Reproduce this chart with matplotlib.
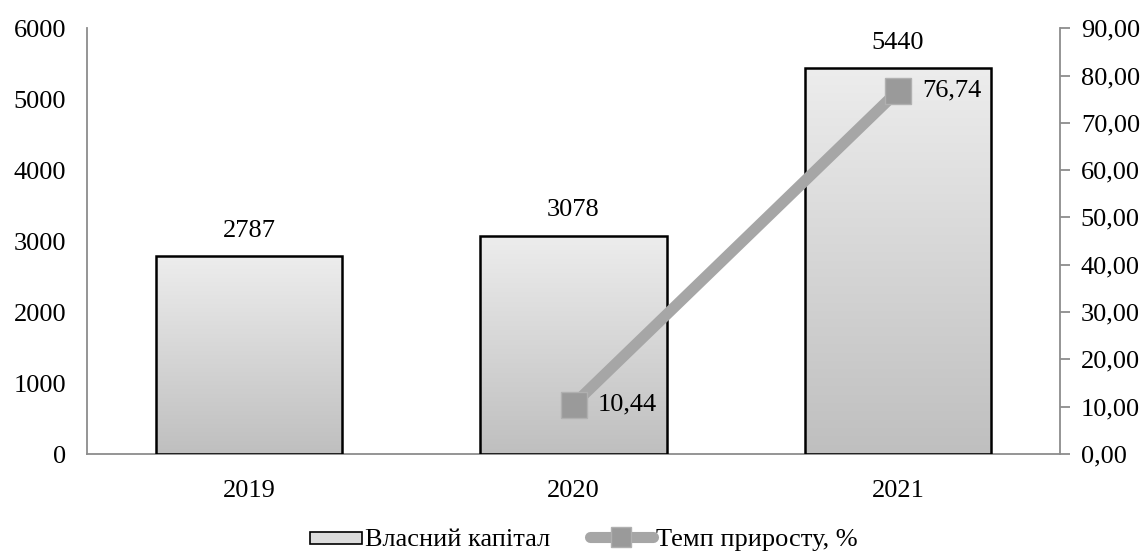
import numpy as np
import matplotlib.pyplot as plt
from matplotlib.colors import LinearSegmentedColormap
from matplotlib.lines import Line2D
from matplotlib.patches import Patch, Rectangle
from matplotlib.legend_handler import HandlerPatch

plt.rcParams['font.family'] = ['Liberation Serif', 'DejaVu Serif']

# Дані
roky = ['2019', '2020', '2021']
kapital = [2787, 3078, 5440]
temp_roky = ['2020', '2021']
temp = [10.44, 76.74]
temp_pidpysy = ['10,44', '76,74']

FS = 19

fig = plt.figure(figsize=(11.45, 5.53), dpi=100)
ax = fig.add_axes([0.076, 0.179, 0.8498, 0.77])
ax2 = ax.twinx()

x = np.arange(len(roky))
stovpci = ax.bar(x, kapital, width=0.575, facecolor='none', edgecolor='black',
                 linewidth=1.8, zorder=3)

# Градієнтна заливка стовпців
grad = np.linspace(0, 1, 256).reshape(-1, 1)
cmap = LinearSegmentedColormap.from_list('sire', ['#bfbfbf', '#ededed'])
for b in stovpci:
    x0, y0 = b.get_x(), b.get_y()
    w, h = b.get_width(), b.get_height()
    im = ax.imshow(grad, extent=[x0, x0 + w, y0, y0 + h], origin='lower',
                   cmap=cmap, aspect='auto', zorder=2)
    im.set_clip_path(b)
    ax.text(b.get_x() + w / 2, h + 200, f'{h:.0f}', ha='center', va='bottom',
            fontsize=FS)

ax.set_xlim(-0.5, 2.5)
ax.set_ylim(0, 6000)
ax.set_yticks(range(0, 6001, 1000))
ax.set_xticks(x)
ax.set_xticklabels(roky)

# Темп приросту на другій осі
xt = [roky.index(r) for r in temp_roky]
ax2.plot(xt, temp, color='#a6a6a6', linewidth=8, solid_capstyle='butt',
         marker='s', markersize=19, markerfacecolor='#9a9a9a',
         markeredgecolor='#b0b0b0', markeredgewidth=1, zorder=4)
for xi, v, s in zip(xt, temp, temp_pidpysy):
    ax2.text(xi + 0.075, v, s, ha='left', va='center', fontsize=FS)
ax2.set_ylim(0, 90)
ax2.set_yticks(range(0, 91, 10))
ax2.set_yticklabels([f'{v},00' for v in range(0, 91, 10)])

for a in (ax, ax2):
    a.spines['top'].set_visible(False)
    for s in ('left', 'right', 'bottom'):
        a.spines[s].set_color('#8c8c8c')
        a.spines[s].set_linewidth(1.3)
    a.tick_params(labelsize=FS)
ax.spines['right'].set_visible(False)
ax2.spines['left'].set_visible(False)
ax2.spines['bottom'].set_visible(False)
ax.tick_params(axis='y', length=0, pad=15)
ax.tick_params(axis='x', length=0, pad=19)
ax2.tick_params(axis='y', length=7, width=1.3, color='#8c8c8c', pad=8)


# прямокутник у легенді, притиснутий до тексту
def pryamokutnyk(legend, orig_handle, xdescent, ydescent, width, height, fontsize):
    w = width * 0.83
    return Rectangle((width - w - xdescent, -ydescent + height * 0.15), w, height * 0.62)


handles = [
    Patch(facecolor='#dcdcdc', edgecolor='black', linewidth=1.2),
    Line2D([0], [0], color='#a6a6a6', linewidth=8, solid_capstyle='round',
           marker='s', markersize=14, markerfacecolor='#9a9a9a',
           markeredgecolor='#b0b0b0'),
]
fig.legend(handles, ['Власний капітал', 'Темп приросту, %'], loc='lower center',
           bbox_to_anchor=(0.505, -0.04), ncol=2, frameon=False, fontsize=FS,
           handlelength=2.4, handletextpad=0.1, columnspacing=1.5,
           handler_map={Patch: HandlerPatch(patch_func=pryamokutnyk)})

fig.savefig('out.png', dpi=100)
